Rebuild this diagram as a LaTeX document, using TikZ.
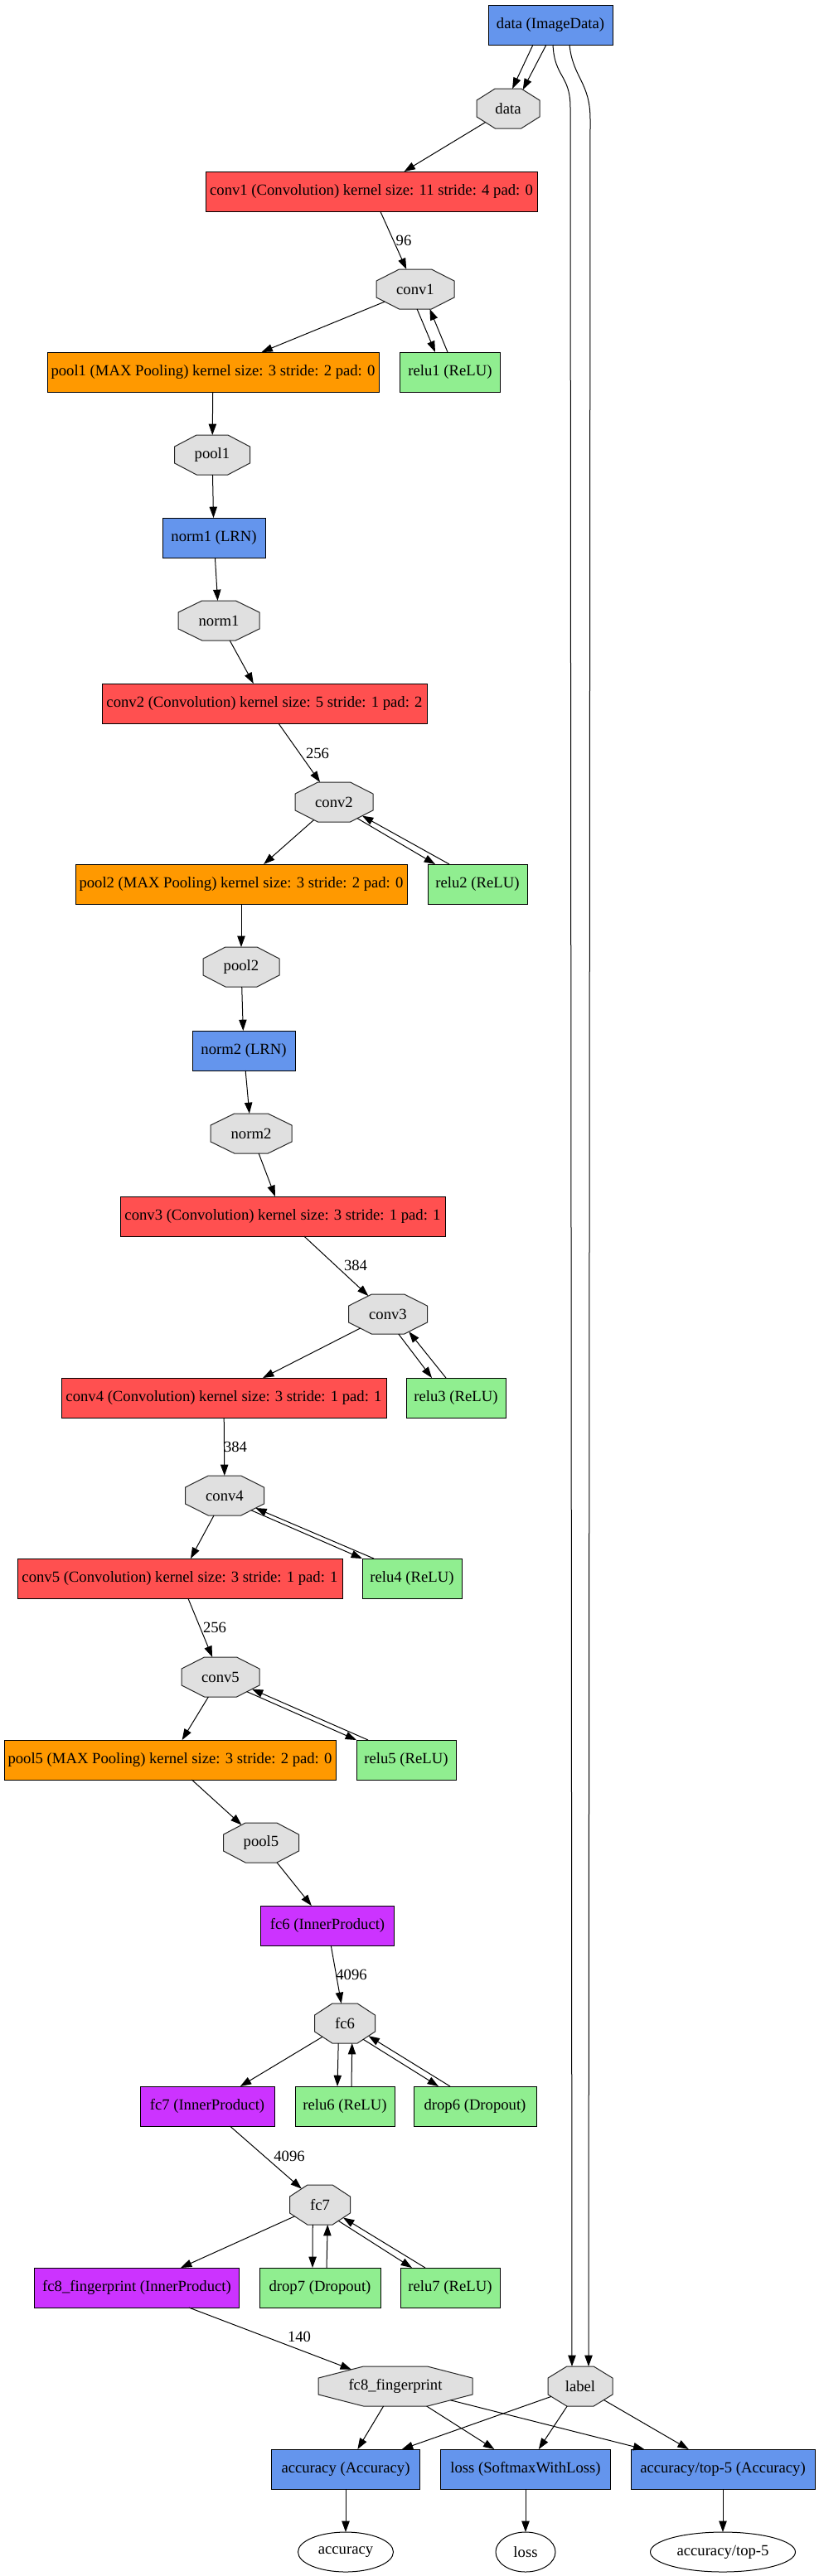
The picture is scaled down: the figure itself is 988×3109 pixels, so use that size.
\documentclass[tikz,border=0pt]{standalone}
\usepackage{fontspec}
\setmainfont{Liberation Serif}
\usetikzlibrary{arrows.meta,shapes.geometric,calc}
\definecolor{cblue}{HTML}{6495ED}
\definecolor{cred}{HTML}{FF5050}
\definecolor{corange}{HTML}{FF9900}
\definecolor{cpurple}{HTML}{CC33FF}
\definecolor{cgreen}{HTML}{90EE90}
\definecolor{cgray}{HTML}{E0E0E0}
\makeatletter
\pgfdeclareshape{octo}{%
  \inheritsavedanchors[from=rectangle]%
  \inheritanchor[from=rectangle]{center}%
  \inheritanchor[from=rectangle]{north}%
  \inheritanchor[from=rectangle]{south}%
  \inheritanchor[from=rectangle]{east}%
  \inheritanchor[from=rectangle]{west}%
  \inheritanchor[from=rectangle]{text}%
  \inheritanchor[from=rectangle]{base}%
  \inheritanchor[from=rectangle]{mid}%
  \backgroundpath{%
    \southwest \edef\oct@xa{\the\pgf@x}\edef\oct@ya{\the\pgf@y}%
    \northeast \edef\oct@xb{\the\pgf@x}\edef\oct@yb{\the\pgf@y}%
    \pgf@xc=\oct@xb\relax \advance\pgf@xc by -\oct@xa\relax \pgf@xc=0.29289\pgf@xc
    \pgf@yc=\oct@yb\relax \advance\pgf@yc by -\oct@ya\relax \pgf@yc=0.29289\pgf@yc
    \edef\oct@c{\the\pgf@xc}\edef\oct@d{\the\pgf@yc}%
    \pgfpathmoveto{\pgfqpoint{\dimexpr\oct@xa+\oct@c\relax}{\oct@yb}}%
    \pgfpathlineto{\pgfqpoint{\dimexpr\oct@xb-\oct@c\relax}{\oct@yb}}%
    \pgfpathlineto{\pgfqpoint{\oct@xb}{\dimexpr\oct@yb-\oct@d\relax}}%
    \pgfpathlineto{\pgfqpoint{\oct@xb}{\dimexpr\oct@ya+\oct@d\relax}}%
    \pgfpathlineto{\pgfqpoint{\dimexpr\oct@xb-\oct@c\relax}{\oct@ya}}%
    \pgfpathlineto{\pgfqpoint{\dimexpr\oct@xa+\oct@c\relax}{\oct@ya}}%
    \pgfpathlineto{\pgfqpoint{\oct@xa}{\dimexpr\oct@ya+\oct@d\relax}}%
    \pgfpathlineto{\pgfqpoint{\oct@xa}{\dimexpr\oct@yb-\oct@d\relax}}%
    \pgfpathclose
  }%
  \anchorborder{%
    \edef\oct@dx{\the\pgf@x}\edef\oct@dy{\the\pgf@y}%
    \southwest \edef\oct@xa{\the\pgf@x}\edef\oct@ya{\the\pgf@y}%
    \northeast \edef\oct@xb{\the\pgf@x}\edef\oct@yb{\the\pgf@y}%
    \pgf@xb=\oct@xb\relax \advance\pgf@xb by -\oct@xa\relax \pgf@xb=.5\pgf@xb
    \pgf@yb=\oct@yb\relax \advance\pgf@yb by -\oct@ya\relax \pgf@yb=.5\pgf@yb
    \edef\oct@W{\the\pgf@xb}\edef\oct@H{\the\pgf@yb}%
    \pgf@xa=\oct@xa\relax \advance\pgf@xa by \pgf@xb
    \pgf@ya=\oct@ya\relax \advance\pgf@ya by \pgf@yb
    \edef\oct@cx{\the\pgf@xa}\edef\oct@cy{\the\pgf@ya}%
    \pgfpointborderrectangle{\pgfqpoint{\oct@dx}{\oct@dy}}{\pgfqpoint{\oct@W}{\oct@H}}%
    \edef\oct@px{\the\pgf@x}\edef\oct@py{\the\pgf@y}%
    \pgfmathparse{abs(\oct@px)/\oct@W+abs(\oct@py)/\oct@H}%
    \ifdim\pgfmathresult pt>1.41421pt
      \pgfmathparse{1.41421/\pgfmathresult}%
      \let\oct@f\pgfmathresult
    \else
      \def\oct@f{1}%
    \fi
    \pgf@x=\oct@f\dimexpr\oct@px\relax
    \pgf@y=\oct@f\dimexpr\oct@py\relax
    \advance\pgf@x by \oct@cx\relax
    \advance\pgf@y by \oct@cy\relax
  }%
}
\makeatother
\begin{document}
\begin{tikzpicture}[x=0.75pt,y=-0.75pt,
  txt/.style={font=\fontsize{14pt}{16pt}\selectfont},
  bw/.style={minimum width=#1*0.75pt},
  box/.style={txt,draw=black,line width=0.75pt,rectangle,minimum height=36pt,inner xsep=3pt,inner ysep=1pt,outer sep=0pt},
  oct/.style={txt,draw=black!85,line width=0.75pt,shape=octo,fill=cgray,minimum height=36pt,inner xsep=2pt,inner ysep=1pt,outer sep=0pt},
  ell/.style={txt,draw=black,line width=0.75pt,ellipse,minimum height=36pt,inner sep=1pt,outer sep=0pt},
  lbl/.style={txt,inner sep=0pt},
  e/.style={line width=0.75pt,-{Triangle[length=10pt,width=7pt]}}]
\fill[white] (0,0) rectangle (988,3109);
\useasboundingbox (0,0) rectangle (988,3109);

% nodes
\node[box,fill=cblue,bw=150] (dataL) at (664,30) {data (ImageData)};
\node[oct,bw=76] (data) at (613,131) {data};
\node[box,fill=cred,bw=400] (conv1L) at (448,231) {conv1 (Convolution) kernel size: 11 stride: 4 pad: 0};
\node[oct,bw=94] (conv1) at (501,349) {conv1};
\node[box,fill=corange,bw=400] (pool1L) at (257,449) {pool1 (MAX Pooling) kernel size: 3 stride: 2 pad: 0};
\node[box,fill=cgreen,bw=121] (relu1) at (543,449) {relu1 (ReLU)};
\node[oct,bw=91] (pool1) at (256,549) {pool1};
\node[box,fill=cblue,bw=124] (norm1L) at (258,649) {norm1 (LRN)};
\node[oct,bw=98] (norm1) at (264,749) {norm1};
\node[box,fill=cred,bw=392] (conv2L) at (319,849) {conv2 (Convolution) kernel size: 5 stride: 1 pad: 2};
\node[oct,bw=94] (conv2) at (403,968) {conv2};
\node[box,fill=corange,bw=400] (pool2L) at (291,1067) {pool2 (MAX Pooling) kernel size: 3 stride: 2 pad: 0};
\node[box,fill=cgreen,bw=120] (relu2) at (576,1067) {relu2 (ReLU)};
\node[oct,bw=92] (pool2) at (291,1167) {pool2};
\node[box,fill=cblue,bw=124] (norm2L) at (294,1268) {norm2 (LRN)};
\node[oct,bw=98] (norm2) at (303,1368) {norm2};
\node[box,fill=cred,bw=392] (conv3L) at (341,1468) {conv3 (Convolution) kernel size: 3 stride: 1 pad: 1};
\node[oct,bw=95] (conv3) at (468,1586) {conv3};
\node[box,fill=cred,bw=392] (conv4L) at (270,1687) {conv4 (Convolution) kernel size: 3 stride: 1 pad: 1};
\node[box,fill=cgreen,bw=120] (relu3) at (550,1687) {relu3 (ReLU)};
\node[oct,bw=95] (conv4) at (271,1805) {conv4};
\node[box,fill=cred,bw=392] (conv5L) at (217,1905) {conv5 (Convolution) kernel size: 3 stride: 1 pad: 1};
\node[box,fill=cgreen,bw=120] (relu4) at (497,1905) {relu4 (ReLU)};
\node[oct,bw=94] (conv5) at (266,2024) {conv5};
\node[box,fill=corange,bw=400] (pool5L) at (205,2124) {pool5 (MAX Pooling) kernel size: 3 stride: 2 pad: 0};
\node[box,fill=cgreen,bw=120] (relu5) at (490,2124) {relu5 (ReLU)};
\node[oct,bw=91] (pool5) at (315,2224) {pool5};
\node[box,fill=cpurple,bw=161] (fc6L) at (395,2324) {fc6 (InnerProduct)};
\node[oct,bw=73] (fc6) at (416,2442) {fc6};
\node[box,fill=cpurple,bw=162] (fc7L) at (250,2542) {fc7 (InnerProduct)};
\node[box,fill=cgreen,bw=120] (relu6) at (416,2542) {relu6 (ReLU)};
\node[box,fill=cgreen,bw=148] (drop6) at (573,2542) {drop6 (Dropout)};
\node[oct,bw=73] (fc7) at (386,2661) {fc7};
\node[box,fill=cpurple,bw=247] (fc8L) at (165,2761) {fc8\_fingerprint (InnerProduct)};
\node[box,fill=cgreen,bw=146] (drop7) at (386,2761) {drop7 (Dropout)};
\node[box,fill=cgreen,bw=120] (relu7) at (543,2761) {relu7 (ReLU)};
\node[oct,bw=186] (fc8) at (477,2880) {fc8\_fingerprint};
\node[oct,bw=78] (labelb) at (700,2880) {label};
\node[box,fill=cblue,bw=179] (accL) at (417,2980) {accuracy (Accuracy)};
\node[box,fill=cblue,bw=205] (lossL) at (634,2980) {loss (SoftmaxWithLoss)};
\node[box,fill=cblue,bw=222] (top5L) at (872,2980) {accuracy/top-5 (Accuracy)};
\node[ell,bw=115] (acc) at (417,3080) {accuracy};
\node[ell,bw=72] (loss) at (634,3080) {loss};
\node[ell,bw=175] (top5) at (872,3080) {accuracy/top-5};

% edge labels
\node[lbl] (l1) at (487,290) {96};
\node[lbl] (l2) at (383,909) {256};
\node[lbl] (l3) at (429,1527) {384};
\node[lbl] (l4) at (284,1746) {384};
\node[lbl] (l5) at (259,1964) {256};
\node[lbl] (l6) at (424,2383) {4096};
\node[lbl] (l7) at (349,2602) {4096};
\node[lbl] (l8) at (361,2820) {140};

% edges
\draw[e] ($(dataL.south)+(-21,0)$) -- (data.78);
\draw[e] ($(dataL.south)+(-5,0)$) -- (data.52);
\draw[e] ($(dataL.south)+(3,0)$) .. controls +(2,40) and +(0,-40) .. +(21,76) -- ($(labelb.north)+(-10,0)$);
\draw[e] ($(dataL.south)+(23,0)$) .. controls +(4,40) and +(0,-45) .. +(25,90) -- ($(labelb.north)+(10,0)$);
\draw[e] (data) -- (conv1L);
\draw[e] (conv1L) -- (conv1);
\draw[e] (conv1) -- (pool1L);
\draw[e] (conv1.-85) -- ($(relu1.north)+(-18,0)$);
\draw[e] ($(relu1.north)+(-3,0)$) -- (conv1.-54);
\draw[e] (pool1L) -- (pool1);
\draw[e] (pool1) -- (norm1L);
\draw[e] (norm1L) -- (norm1);
\draw[e] (norm1) -- (conv2L);
\draw[e] (conv2L) -- (conv2);
\draw[e] (conv2) -- (pool2L);
\draw[e] (conv2.-35) -- ($(relu2.north)+(-51,0)$);
\draw[e] ($(relu2.north)+(-34,0)$) -- (conv2.-26);
\draw[e] (pool2L) -- (pool2);
\draw[e] (pool2) -- (norm2L);
\draw[e] (norm2L) -- (norm2);
\draw[e] (norm2) -- (conv3L);
\draw[e] (conv3L) -- (conv3);
\draw[e] (conv3) -- (conv4L);
\draw[e] (conv3.-62) -- ($(relu3.north)+(-29,0)$);
\draw[e] ($(relu3.north)+(-12,0)$) -- (conv3.-40);
\draw[e] (conv4L) -- (conv4);
\draw[e] (conv4) -- (conv5L);
\draw[e] (conv4.-29) -- ($(relu4.north)+(-60,0)$);
\draw[e] ($(relu4.north)+(-46,0)$) -- (conv4.-22);
\draw[e] (conv5L) -- (conv5);
\draw[e] (conv5) -- (pool5L);
\draw[e] (conv5.-29) -- ($(relu5.north)+(-60,0)$);
\draw[e] ($(relu5.north)+(-46,0)$) -- (conv5.-21);
\draw[e] (pool5L) -- (pool5);
\draw[e] (pool5) -- (fc6L);
\draw[e] (fc6L) -- (fc6);
\draw[e] (fc6) -- (fc7L);
\draw[e] (fc6.-108) -- ($(relu6.north)+(-9,0)$);
\draw[e] ($(relu6.north)+(8,0)$) -- (fc6.-70);
\draw[e] (fc6.-41) -- ($(drop6.north)+(-44,0)$);
\draw[e] ($(drop6.north)+(-30,0)$) -- (fc6.-28);
\draw[e] (fc7L) -- (fc7);
\draw[e] (fc7) -- (fc8L);
\draw[e] (fc7.-110) -- ($(drop7.north)+(-9,0)$);
\draw[e] ($(drop7.north)+(8,0)$) -- (fc7.-69);
\draw[e] (fc7.-41) -- ($(relu7.north)+(-46,0)$);
\draw[e] ($(relu7.north)+(-30,0)$) -- (fc7.-29);
\draw[e] (fc8L) -- (fc8);
\draw[e] (fc8) -- (accL);
\draw[e] (fc8) -- (lossL);
\draw[e] (fc8) -- (top5L);
\draw[e] (labelb) -- (accL);
\draw[e] (labelb) -- (lossL);
\draw[e] (labelb) -- (top5L);
\draw[e] (accL) -- (acc);
\draw[e] (lossL) -- (loss);
\draw[e] (top5L) -- (top5);
\end{tikzpicture}
\end{document}
